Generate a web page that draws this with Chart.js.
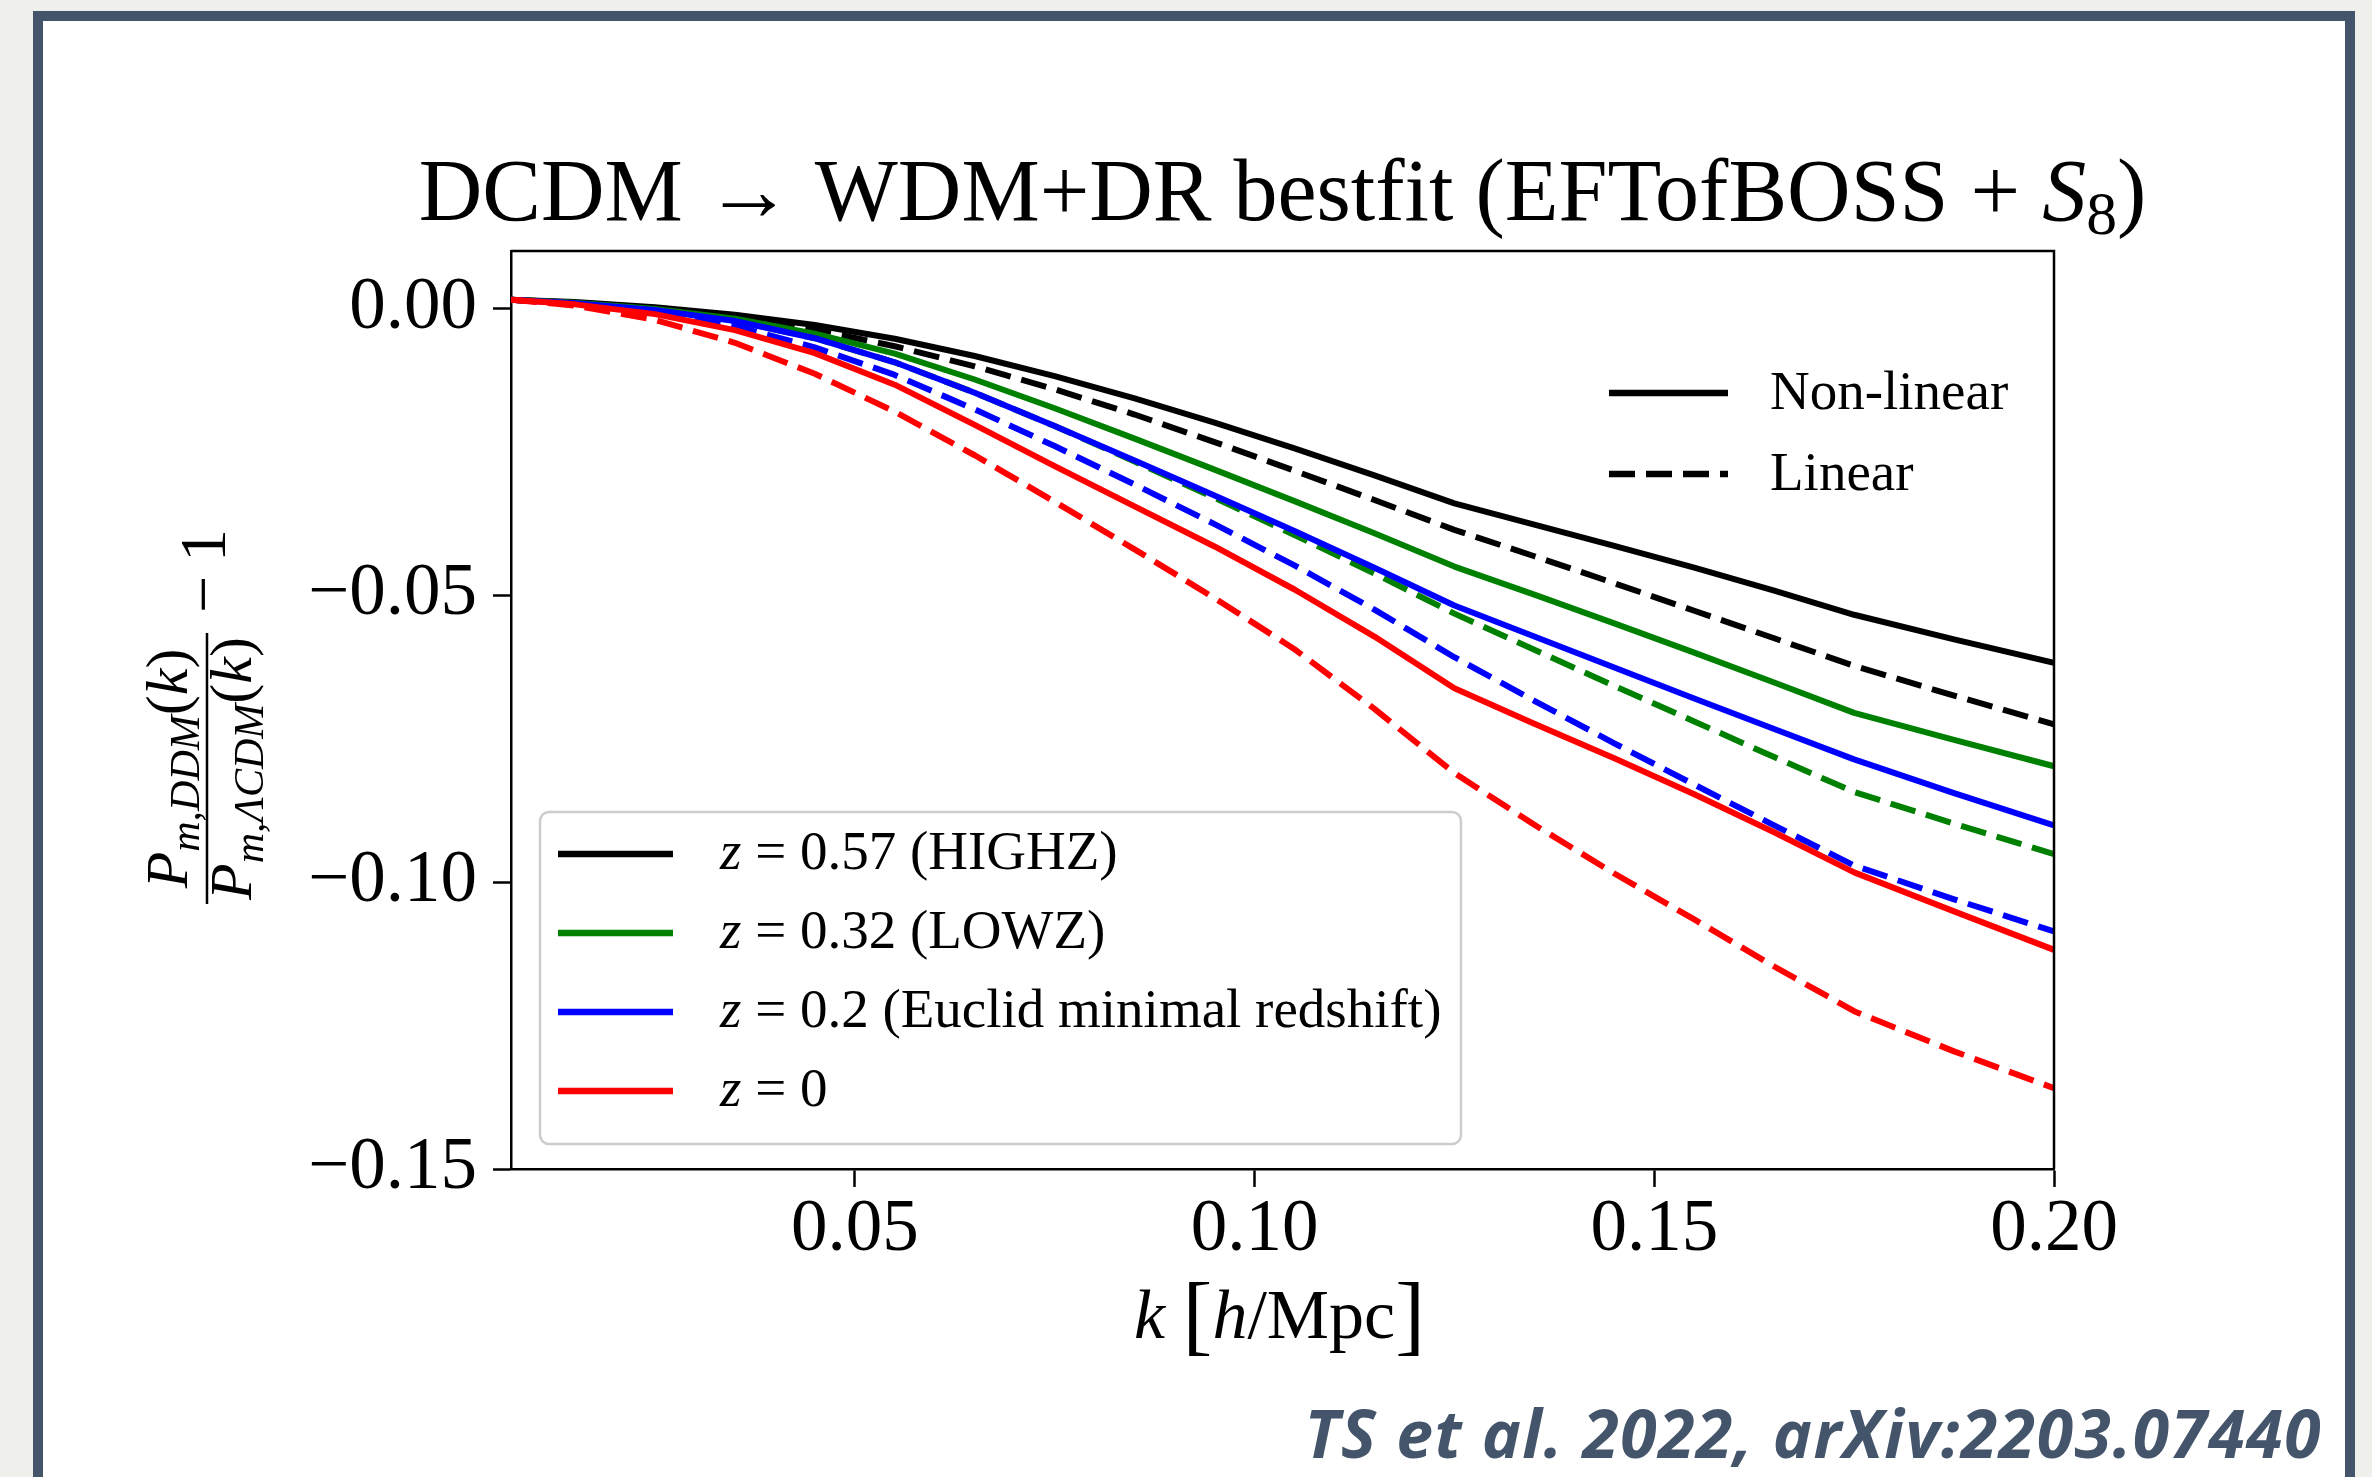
<!DOCTYPE html>
<html>
<head>
<meta charset="utf-8">
<script src="https://cdn.jsdelivr.net/npm/chart.js@4.4.1/dist/chart.umd.min.js"></script>
<style>
  html, body { margin: 0; padding: 0; width: 2372px; height: 1477px; overflow: hidden; background: #eff0eb; }
  #frame { position: absolute; left: 33px; top: 11px; width: 2302px; height: 1466px;
           border: 10px solid #44546a; border-bottom: none; background: #fff; }
  #chart { position: absolute; left: 0; top: 0; }
</style>
</head>
<body>
<div id="frame"></div>
<canvas id="chart" width="2372" height="1477"></canvas>
<script>
// k in h/Mpc
const kValues = [0.007, 0.015, 0.025, 0.035, 0.045, 0.055, 0.065, 0.075, 0.085, 0.095,
                 0.105, 0.115, 0.125, 0.135, 0.145, 0.155, 0.165, 0.175, 0.1875, 0.20];

// P_DDM / P_LCDM - 1
const highzNonLinear = [0.0015, 0.0011, 0.0002, -0.0011, -0.0029, -0.0053, -0.0083, -0.0118, -0.0157, -0.0199,
                        -0.0244, -0.0291, -0.0340, -0.0377, -0.0414, -0.0452, -0.0492, -0.0534, -0.0577, -0.0618];
const highzLinear    = [0.0015, 0.0010, 0.0000, -0.0015, -0.0037, -0.0066, -0.0101, -0.0141, -0.0185, -0.0233,
                        -0.0283, -0.0334, -0.0386, -0.0432, -0.0479, -0.0527, -0.0575, -0.0623, -0.0675, -0.0725];
const lowzNonLinear  = [0.0015, 0.0010, -0.0001, -0.0018, -0.0044, -0.0079, -0.0124, -0.0174, -0.0227, -0.0281,
                        -0.0336, -0.0392, -0.0450, -0.0499, -0.0549, -0.0600, -0.0652, -0.0705, -0.0752, -0.0798];
const lowzLinear     = [0.0015, 0.0009, -0.0003, -0.0022, -0.0052, -0.0094, -0.0147, -0.0205, -0.0267, -0.0330,
                        -0.0395, -0.0462, -0.0532, -0.0595, -0.0658, -0.0720, -0.0782, -0.0843, -0.0898, -0.0951];
const euclidNonLinear = [0.0015, 0.0009, -0.0003, -0.0022, -0.0052, -0.0094, -0.0147, -0.0205, -0.0265, -0.0326,
                         -0.0388, -0.0452, -0.0518, -0.0572, -0.0626, -0.0680, -0.0733, -0.0786, -0.0845, -0.0901];
const euclidLinear   = [0.0015, 0.0008, -0.0006, -0.0031, -0.0068, -0.0116, -0.0176, -0.0240, -0.0307, -0.0376,
                        -0.0448, -0.0525, -0.0608, -0.0684, -0.0758, -0.0830, -0.0901, -0.0971, -0.1030, -0.1086];
const z0NonLinear    = [0.0015, 0.0007, -0.0010, -0.0038, -0.0078, -0.0133, -0.0203, -0.0275, -0.0345, -0.0415,
                        -0.0490, -0.0572, -0.0662, -0.0724, -0.0784, -0.0847, -0.0913, -0.0983, -0.1051, -0.1118];
const z0Linear       = [0.0015, 0.0005, -0.0020, -0.0060, -0.0114, -0.0180, -0.0256, -0.0337, -0.0420, -0.0505,
                        -0.0594, -0.0698, -0.0810, -0.0900, -0.0985, -0.1065, -0.1147, -0.1225, -0.1295, -0.1359];

const zLabels = ['0.57 (HIGHZ)', '0.32 (LOWZ)', '0.2 (Euclid minimal redshift)', '0'];
const zColors = ['#000000', '#008000', '#0000ff', '#ff0000'];
const styleLabels = ['Non-linear', 'Linear'];

const xTicks = [0.05, 0.10, 0.15, 0.20];
const yTicks = [-0.15, -0.10, -0.05, 0.00];

const series = [
  [highzNonLinear, highzLinear],
  [lowzNonLinear, lowzLinear],
  [euclidNonLinear, euclidLinear],
  [z0NonLinear, z0Linear]
];

const DASH = [26, 11];
const serif = "'Liberation Serif', 'Times New Roman', serif";

const datasets = [];
let n = 0;
series.forEach((pair, zi) => {
  pair.forEach((vals, li) => {
    datasets.push({
      label: 'z=' + zLabels[zi] + ' ' + styleLabels[li],
      data: kValues.map((k, i) => ({ x: k, y: vals[i] })),
      borderColor: zColors[zi],
      borderWidth: 6,
      borderDash: li ? DASH : [],
      borderCapStyle: 'butt',
      borderJoinStyle: 'round',
      pointRadius: 0,
      fill: false,
      tension: 0,
      order: 100 - n
    });
    n++;
  });
});

function runFont(r, size) {
  return (r.i ? 'italic ' : '') + (size * (r.s || 1)).toFixed(1) + 'px ' + serif;
}
function drawRuns(ctx, runs, x, y, size, align) {
  let w = 0;
  for (const r of runs) { ctx.font = runFont(r, size); w += ctx.measureText(r.t).width; }
  let cx = align === 'center' ? x - w / 2 : (align === 'right' ? x - w : x);
  for (const r of runs) {
    ctx.font = runFont(r, size);
    ctx.fillText(r.t, cx, y + (r.dy || 0) * size);
    cx += ctx.measureText(r.t).width;
  }
}

const decorations = {
  id: 'decorations',
  afterDatasetsDraw(chart) {
    const ctx = chart.ctx;
    const a = chart.chartArea;
    ctx.save();
    ctx.textAlign = 'left';
    ctx.textBaseline = 'alphabetic';
    ctx.fillStyle = '#000';

    // top and right spines
    ctx.strokeStyle = '#000';
    ctx.lineWidth = 2.5;
    ctx.beginPath();
    ctx.moveTo(a.left, a.top);
    ctx.lineTo(a.right, a.top);
    ctx.lineTo(a.right, a.bottom);
    ctx.stroke();

    // title
    drawRuns(ctx, [
      { t: 'DCDM \u2192 WDM+DR bestfit (EFTofBOSS + ' },
      { t: 'S', i: true },
      { t: '8', s: 0.7, dy: 0.16 },
      { t: ')' }
    ], (a.left + a.right) / 2, a.top - 31, 88, 'center');

    // x label
    drawRuns(ctx, [
      { t: 'k', i: true }, { t: ' ' }, { t: '[', s: 1.28, dy: 0.08 },
      { t: 'h', i: true }, { t: '/Mpc' }, { t: ']', s: 1.28, dy: 0.08 }
    ], (a.left + a.right) / 2 - 3, a.bottom + 169, 70, 'center');

    // y label (rotated fraction)
    ctx.save();
    ctx.translate(a.left - 304, (a.top + a.bottom) / 2 + 4);
    ctx.rotate(-Math.PI / 2);
    const fs = 60, mid = -54.5;
    drawRuns(ctx, [
      { t: 'P', i: true }, { t: 'm,DDM', i: true, s: 0.7, dy: 0.2 },
      { t: '(' }, { t: 'k', i: true }, { t: ')' }
    ], mid, -20, fs, 'center');
    drawRuns(ctx, [
      { t: 'P', i: true }, { t: 'm,\u039bCDM', i: true, s: 0.7, dy: 0.2 },
      { t: '(' }, { t: 'k', i: true }, { t: ')' }
    ], mid, 44, fs, 'center');
    ctx.lineWidth = 2.5;
    ctx.beginPath();
    ctx.moveTo(mid - 135.5, 0);
    ctx.lineTo(mid + 135.5, 0);
    ctx.stroke();
    ctx.font = '66px ' + serif;
    ctx.fillText('\u2212', 101, 18);
    ctx.fillText('1', 152, 18);
    ctx.restore();

    // legend: line styles (no frame)
    const lx = a.left + 1098, ly = a.top + 142;
    styleLabels.forEach((lab, i) => {
      const y = ly + i * 81;
      ctx.setLineDash(i ? DASH : []);
      ctx.lineWidth = 6.5;
      ctx.strokeStyle = '#000';
      ctx.lineCap = 'butt';
      ctx.beginPath();
      ctx.moveTo(lx, y);
      ctx.lineTo(lx + 119, y);
      ctx.stroke();
      ctx.setLineDash([]);
      ctx.textBaseline = 'middle';
      ctx.font = '55px ' + serif;
      ctx.fillText(lab, lx + 161, y + 2);
    });

    // legend: redshifts (framed box)
    const bx = a.left + 29, by = a.top + 561, bw = 921, bh = 332;
    ctx.fillStyle = 'rgba(255,255,255,0.8)';
    ctx.strokeStyle = '#cccccc';
    ctx.lineWidth = 2.5;
    ctx.beginPath();
    ctx.roundRect(bx, by, bw, bh, 9);
    ctx.fill();
    ctx.stroke();
    zLabels.forEach((lab, i) => {
      const y = by + 42 + i * 79;
      ctx.strokeStyle = zColors[i];
      ctx.lineWidth = 6.5;
      ctx.beginPath();
      ctx.moveTo(bx + 18, y);
      ctx.lineTo(bx + 133, y);
      ctx.stroke();
      ctx.fillStyle = '#000';
      ctx.textBaseline = 'middle';
      drawRuns(ctx, [{ t: 'z', i: true }, { t: ' = ' + lab }], bx + 180, y + 1, 55, 'left');
    });

    // citation
    ctx.textBaseline = 'alphabetic';
    ctx.textAlign = 'right';
    ctx.fillStyle = '#44546a';
    ctx.font = "italic 700 66px 'Open Sans', sans-serif";
    if ('letterSpacing' in ctx) ctx.letterSpacing = '1.5px';
    ctx.fillText('TS et al. 2022, arXiv:2203.07440', 2322, 1458);
    ctx.restore();
  }
};

const fmt = v => (Math.abs(v) < 1e-9 ? '0.00' : (v < 0 ? '\u2212' : '') + Math.abs(v).toFixed(2));

new Chart(document.getElementById('chart').getContext('2d'), {
  type: 'line',
  data: { datasets: datasets },
  options: {
    responsive: false,
    animation: false,
    devicePixelRatio: 1,
    layout: { padding: { top: 251, right: 318, bottom: 0, left: 0 } },
    plugins: {
      legend: { display: false },
      tooltip: { enabled: false },
      title: { display: false }
    },
    scales: {
      x: {
        type: 'linear',
        min: 0.007,
        max: 0.20,
        afterBuildTicks: s => { s.ticks = xTicks.map(v => ({ value: v })); },
        afterFit: s => { s.height = 308; },
        ticks: {
          callback: v => v.toFixed(2),
          color: '#000',
          font: { family: serif, size: 73 },
          padding: 0,
          maxRotation: 0,
          autoSkip: false
        },
        grid: { display: true, drawOnChartArea: false, drawTicks: true, tickLength: 18, tickWidth: 2.5, tickColor: '#000' },
        border: { display: true, color: '#000', width: 2.5 }
      },
      y: {
        type: 'linear',
        min: -0.15,
        max: 0.01,
        afterBuildTicks: s => { s.ticks = yTicks.map(v => ({ value: v })); },
        afterFit: s => { s.width = 511; },
        ticks: {
          callback: fmt,
          color: '#000',
          font: { family: serif, size: 73 },
          padding: 16,
          autoSkip: false
        },
        grid: { display: true, drawOnChartArea: false, drawTicks: true, tickLength: 18, tickWidth: 2.5, tickColor: '#000' },
        border: { display: true, color: '#000', width: 2.5 }
      }
    }
  },
  plugins: [decorations]
});
</script>
</body>
</html>
